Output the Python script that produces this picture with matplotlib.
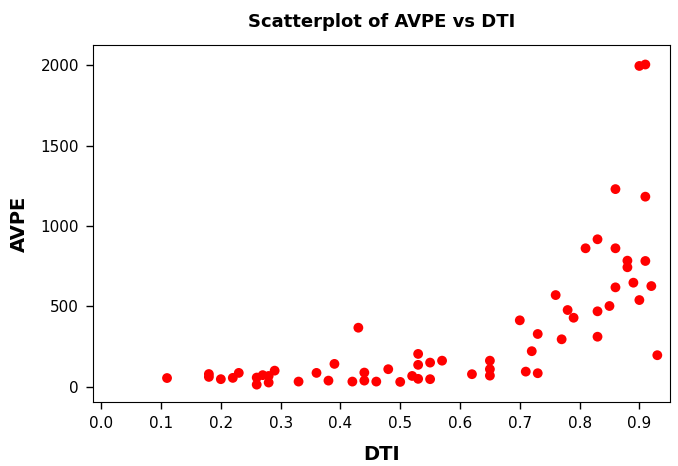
import matplotlib
matplotlib.use("Agg")
import matplotlib.pyplot as plt

# DTI vs AVPE readings
dti = [0.11, 0.18, 0.18, 0.20, 0.22, 0.23, 0.26, 0.26, 0.27, 0.28,
       0.28, 0.29, 0.33, 0.36, 0.38, 0.39, 0.42, 0.43, 0.44, 0.44,
       0.46, 0.48, 0.50, 0.52, 0.53, 0.53, 0.53, 0.55, 0.55, 0.57,
       0.62, 0.65, 0.65, 0.65, 0.70, 0.71, 0.72, 0.73, 0.73, 0.76,
       0.77, 0.78, 0.79, 0.81, 0.83, 0.83, 0.83, 0.85, 0.86, 0.86,
       0.86, 0.88, 0.88, 0.89, 0.90, 0.90, 0.91, 0.91, 0.91, 0.92,
       0.93]
avpe = [55, 80, 62, 48, 56, 87, 58, 14, 73, 68,
        27, 101, 33, 87, 39, 143, 33, 368, 89, 39,
        33, 110, 31, 68, 205, 137, 50, 151, 48, 163,
        79, 163, 110, 70, 414, 95, 222, 329, 85, 571,
        296, 478, 430, 862, 918, 470, 312, 503, 1230, 862,
        619, 785, 744, 648, 1996, 540, 2005, 1183, 783, 627,
        197]

xticks = [0.0, 0.1, 0.2, 0.3, 0.4, 0.5, 0.6, 0.7, 0.8, 0.9]
yticks = [0, 500, 1000, 1500, 2000]

fig = plt.figure(figsize=(6.78, 4.66), dpi=100)
ax = fig.add_axes([0.137, 0.137, 0.851, 0.766])

ax.scatter(dti, avpe, s=50, color="red", edgecolors="none", zorder=3)

ax.set_xlim(-0.014, 0.951)
ax.set_ylim(-95, 2125)
ax.set_xticks(xticks)
ax.set_xticklabels([f"{t:.1f}" for t in xticks])
ax.set_yticks(yticks)
ax.tick_params(labelsize=11, length=5, width=1, pad=5)

ax.set_title("Scatterplot of AVPE vs DTI", fontsize=13, fontweight="bold", pad=13)
ax.set_xlabel("DTI", fontsize=14, fontweight="bold", labelpad=10)
ax.set_ylabel("AVPE", fontsize=14, fontweight="bold", labelpad=8)

fig.savefig("out.png", dpi=100)
